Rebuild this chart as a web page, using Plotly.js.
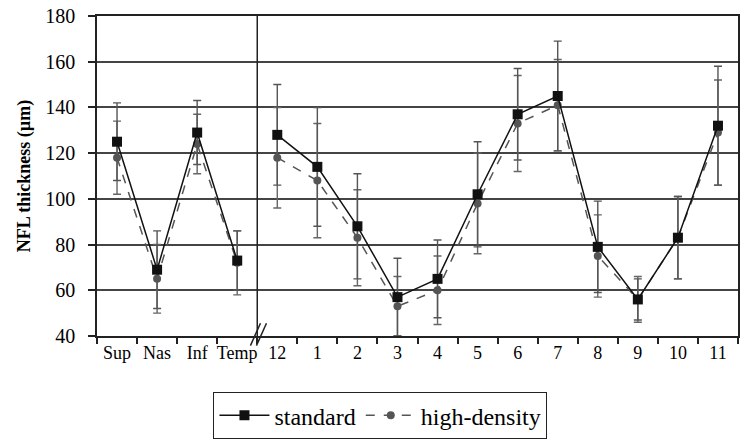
<!DOCTYPE html>
<html>
<head>
<meta charset="utf-8">
<script src="https://cdn.plot.ly/plotly-3.0.1.min.js"></script>
<style>
  html, body { margin: 0; padding: 0; background: #fff; }
  #chart { width: 750px; height: 440px; }
</style>
</head>
<body>
<div id="chart"></div>
<script>
// categories: quadrants then clock hours
var regionLabels = ['Sup', 'Nas', 'Inf', 'Temp', '12', '1', '2', '3', '4', '5', '6', '7', '8', '9', '10', '11'];

// NFL thickness (um), mean and SD
var standardMean = [125, 69, 129, 73, 128, 114, 88, 57, 65, 102, 137, 145, 79, 56, 83, 132];
var standardSD   = [17, 17, 14, 13, 22, 26, 23, 17, 17, 23, 20, 24, 20, 9, 18, 26];
var hdMean       = [118, 65, 124, 72, 118, 108, 83, 53, 60, 98, 133, 141, 75, 56, 83, 129];
var hdSD         = [16, 15, 13, 14, 22, 25, 21, 13, 15, 22, 21, 20, 18, 10, 18, 23];

var yTicks = [40, 60, 80, 100, 120, 140, 160, 180];

var serif = '"Liberation Serif", serif';
var nQuad = 4;

// build one series as two traces (quadrants / clock hours) so the line breaks
function seriesTraces(name, mean, sd, lineStyle, markerStyle, errColor) {
    var parts = [[0, nQuad], [nQuad, regionLabels.length]];
    var out = [];
    for (var i = 0; i < parts.length; i++) {
        var a = parts[i][0], b = parts[i][1];
        out.push({
            x: regionLabels.slice(a, b),
            y: mean.slice(a, b),
            name: name,
            legendgroup: name,
            showlegend: i == 0,
            type: 'scatter',
            mode: 'lines+markers',
            line: lineStyle,
            marker: markerStyle,
            error_y: {
                type: 'data',
                array: sd.slice(a, b),
                visible: true,
                color: errColor,
                thickness: 1.4,
                width: 4
            }
        });
    }
    return out;
}

var data = [].concat(
    seriesTraces('high-density', hdMean, hdSD,
        {color: '#555', width: 1.5, dash: 'dash'},
        {symbol: 'circle', size: 8, color: '#555'}, '#666'),
    seriesTraces('standard', standardMean, standardSD,
        {color: '#111', width: 1.5},
        {symbol: 'square', size: 10, color: '#111'}, '#555')
);

// "//" axis-break mark at the quadrant / clock-hour boundary
var brk = nQuad - 0.5;
function slash(dx) {
    return {
        type: 'line', xref: 'x', yref: 'paper',
        x0: brk - 0.17 + dx, x1: brk + 0.08 + dx,
        y0: -0.03, y1: 0.04,
        line: {color: '#222', width: 1.5}
    };
}

var layout = {
    width: 750,
    height: 440,
    margin: {l: 97, r: 12, t: 16, b: 104},
    paper_bgcolor: '#fff',
    plot_bgcolor: '#fff',
    font: {family: serif, color: '#000', size: 16},
    showlegend: true,
    legend: {
        orientation: 'h',
        xref: 'container',
        yref: 'container',
        x: 0.507,
        xanchor: 'center',
        y: 0.109,
        yanchor: 'top',
        bordercolor: '#222',
        borderwidth: 1.2,
        font: {family: serif, size: 24, color: '#000'},
        traceorder: 'reversed',
        itemwidth: 50
    },
    xaxis: {
        type: 'category',
        categoryorder: 'array',
        categoryarray: regionLabels,
        range: [-0.5, regionLabels.length - 0.5],
        automargin: false,
        showgrid: false,
        zeroline: false,
        showline: true,
        linecolor: '#222',
        linewidth: 1.5,
        mirror: true,
        ticks: 'outside',
        tickson: 'boundaries',
        ticklen: 6,
        tickwidth: 1.5,
        tickcolor: '#222',
        tickangle: 0,
        tickfont: {family: serif, size: 18, color: '#000'}
    },
    yaxis: {
        range: [40, 180],
        tickvals: yTicks,
        automargin: false,
        showgrid: true,
        gridcolor: '#444',
        gridwidth: 1.5,
        zeroline: false,
        showline: true,
        linecolor: '#222',
        linewidth: 1.5,
        mirror: true,
        ticks: 'outside',
        ticklen: 7,
        tickwidth: 1.5,
        tickcolor: '#222',
        ticklabelstandoff: 9,
        tickfont: {family: serif, size: 20, color: '#000'},
        title: {
            text: '<b>NFL thickness (µm)</b>',
            font: {family: serif, size: 18, color: '#000'},
            standoff: 10
        }
    },
    shapes: [
        {
            type: 'line',
            xref: 'x', yref: 'paper',
            x0: brk, x1: brk,
            y0: 0, y1: 1,
            line: {color: '#222', width: 1.5}
        },
        slash(0),
        slash(0.15)
    ]
};

Plotly.newPlot('chart', data, layout, {displayModeBar: false});
</script>
</body>
</html>
